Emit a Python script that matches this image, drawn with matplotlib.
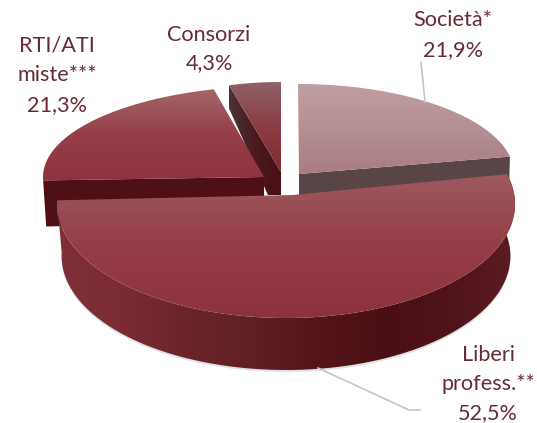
import numpy as np
import matplotlib
matplotlib.use("Agg")
import matplotlib.pyplot as plt
from matplotlib.colors import LinearSegmentedColormap as lsc
from matplotlib.patches import Polygon

# data
categories = ["Società*", "Liberi\nprofess.**", "RTI/ATI\nmiste***", "Consorzi"]
values = [21.9, 52.5, 21.3, 4.3]
pct_labels = ["21,9%", "52,5%", "21,3%", "4,3%"]

TXT = "#652b36"
plt.rcParams["font.family"] = ["Lato", "DejaVu Sans"]

fig = plt.figure(figsize=(5.37, 4.23), dpi=100)
ax = fig.add_axes([0, 0, 1, 1])
ax.set_xlim(0, 537)
ax.set_ylim(423, 0)
ax.axis("off")

# slice angles, clockwise from 12 o'clock
ends = np.cumsum(values) / np.sum(values) * 360
starts = np.r_[0, ends[:-1]]

# cx, cy, rx, ry of the top ellipse, apex, depth, angle tweak for the perspective
geo = [
    (298, 174, 216, 90, (299, 174), 40, (0, 0)),
    (286, 204, 229, 114, (293, 195), 52, (-4, 4)),
    (276, 177, 233, 91, (264, 177), 46, (0, 0)),
    (281, 172, 195, 90, (281, 172), 23, (0, 0)),
]


def arc(g, t0, t1, n=120):
    t = np.radians(np.linspace(t0, t1, n))
    return np.c_[g[0] + g[2] * np.sin(t), g[1] - g[3] * np.cos(t)]


def fill(pts, cols, box, horizontal=False, z=1):
    # gradient image clipped by the polygon
    cm = lsc.from_list("c", cols)
    grad = np.linspace(0, 1, 256)
    grad = grad[None, :] if horizontal else grad[:, None]
    im = ax.imshow(grad, cmap=cm, extent=box, aspect="auto", zorder=z, origin="upper", vmin=0, vmax=1)
    poly = Polygon(pts, closed=True, transform=ax.transData, fc="none", ec="none")
    ax.add_patch(poly)
    im.set_clip_path(poly)


def top(i):
    g = geo[i]
    t0, t1 = starts[i] + g[6][0], ends[i] + g[6][1]
    return np.vstack([[g[4]], arc(g, t0, t1)]), t0, t1


# Consorzi
g = geo[3]
pts, t0, t1 = top(3)
e = arc(g, t0, t0, 1)[0]
side = [e, (e[0], e[1] + g[5]), (268, 195), (281, 195), g[4]]
fill(side, ["#4d3236", "#4a1a1f", "#4a0f15"], (229, 281, 195, 84), True, 2)
fill(pts, ["#8f6266", "#8a3d45", "#7f2a33"], (229, 281, 172, 81), False, 3)

# Società
g = geo[0]
pts, t0, t1 = top(0)
e = arc(g, t1, t1, 1)[0]
side = [g[4], e, (e[0] - 1, e[1] + g[5]), (g[4][0], g[4][1] + g[5])]
ax.add_patch(Polygon(side, closed=True, fc="#5a4546", ec="none", zorder=2))
fill(pts, ["#c09ea2", "#b48f93", "#a87d80"], (297, 511, 174, 84), False, 3)

# RTI/ATI
g = geo[2]
pts, t0, t1 = top(2)
e = arc(g, t0, t0, 1)[0]
side = [g[4], e, (e[0] + 3, e[1] + g[5]), (g[4][0], g[4][1] + g[5])]
ax.add_patch(Polygon(side, closed=True, fc="#4e0f16", ec="none", zorder=4))
fill(pts, ["#a36669", "#953e48", "#8e333d"], (43, 265, 182, 88), False, 5)

# Liberi professionisti, the lower rim is a bit narrower
g = geo[1]
pts, t0, t1 = top(1)
rim = arc(g, t0, t1)
low = rim + [0, g[5]]
low[:, 0] = g[0] + (low[:, 0] - g[0]) * 0.98
side = np.vstack([rim, low[::-1]])
ax.add_patch(Polygon(side + [0, 2], closed=True, fc="#b9bfc4", ec="none", alpha=0.45, zorder=6))
fill(side, ["#7e2f37", "#7b2b34", "#6b2429", "#5e2024", "#541519", "#4a0f14", "#4f1319", "#5c1c22"],
     (57, 516, 375, 165), True, 7)
fill(pts, ["#9d5c60", "#963d47", "#8c323c"], (56, 516, 319, 170), False, 8)

# leader lines
ax.plot([421, 425], [62, 102], color="#c4c6c8", lw=1.2, zorder=9)
ax.plot([318, 409, 420], [368, 410, 410], color="#c4c6c8", lw=1.2, zorder=9)

# labels
ts = 15.6
ax.text(453, 20, categories[0], color=TXT, fontsize=ts, ha="center", va="center")
ax.text(453, 50, pct_labels[0], color=TXT, fontsize=ts, ha="center", va="center")
ax.text(209, 35, categories[3], color=TXT, fontsize=ts, ha="center", va="center")
ax.text(209, 63, pct_labels[3], color=TXT, fontsize=ts, ha="center", va="center")
for y, s in zip([45, 75], categories[2].split("\n")):
    ax.text(57, y, s, color=TXT, fontsize=ts, ha="center", va="center")
ax.text(57, 105, pct_labels[2], color=TXT, fontsize=ts, ha="center", va="center")
for y, s in zip([355, 384], categories[1].split("\n")):
    ax.text(488, y, s, color=TXT, fontsize=ts, ha="center", va="center")
ax.text(488, 413, pct_labels[1], color=TXT, fontsize=ts, ha="center", va="center")

ax.set_xlim(0, 537)
ax.set_ylim(423, 0)
fig.savefig("out.png", dpi=100)
